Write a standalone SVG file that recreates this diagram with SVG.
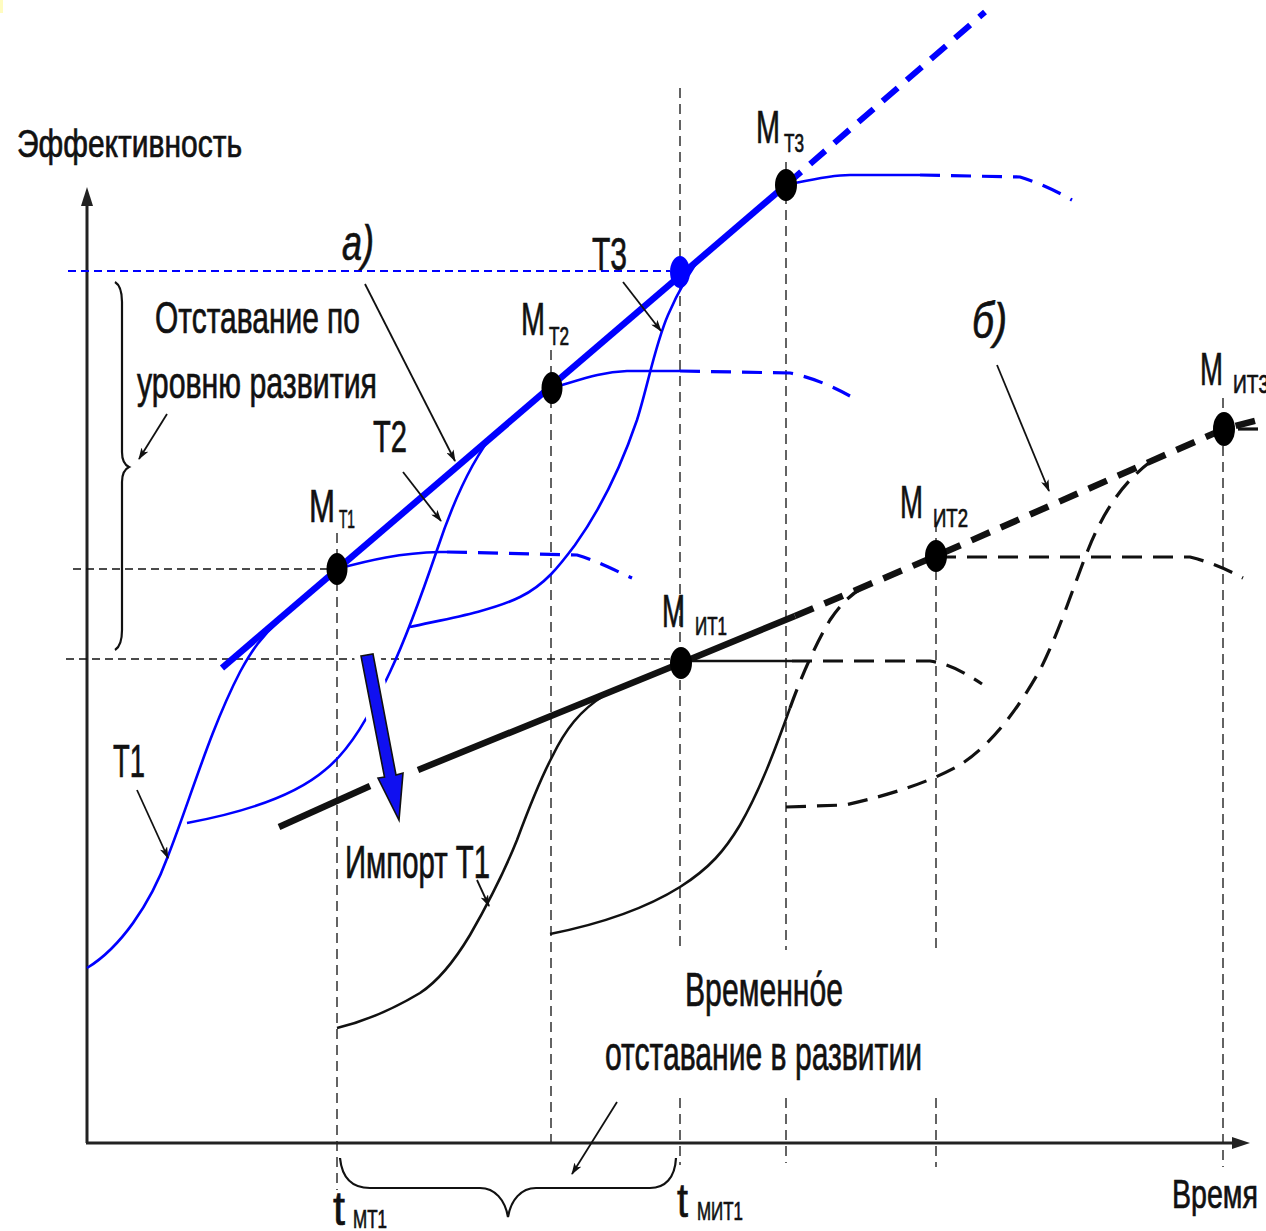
<svg xmlns="http://www.w3.org/2000/svg" width="1266" height="1231" viewBox="0 0 1266 1231">
<defs>
<style>
.ax{stroke:#222;stroke-width:3;fill:none}
.vg{stroke:#222;stroke-width:1.4;stroke-dasharray:10 6;fill:none}
.hg{stroke:#111;stroke-width:1.6;stroke-dasharray:8 5;fill:none}
.hgb{stroke:#0000ff;stroke-width:1.8;stroke-dasharray:8 5;fill:none}
.b{stroke:#0000ff;stroke-width:2.6;fill:none}
.bt{stroke:#0000ff;stroke-width:6.5;fill:none}
.bd{stroke:#0000ff;stroke-width:3.2;stroke-dasharray:20 11;fill:none}
.btd{stroke:#0000ff;stroke-width:6;stroke-dasharray:20 12;fill:none}
.k{stroke:#111;stroke-width:2.6;fill:none}
.kt{stroke:#111;stroke-width:6.5;fill:none}
.kd{stroke:#111;stroke-width:3.2;stroke-dasharray:20 11;fill:none}
.ktd{stroke:#111;stroke-width:6.5;stroke-dasharray:20 12;fill:none}
.ld{stroke:#111;stroke-width:1.8;fill:none}
.br{stroke:#111;stroke-width:2.2;fill:none}
.dot{fill:#000}
text{font-family:"Liberation Sans Narrow","Liberation Sans",Arial,sans-serif;fill:#111;stroke:#111;stroke-width:0.7}
.it{font-style:italic}
</style>
<marker id="ah" viewBox="0 0 12 8" refX="11" refY="4" markerWidth="12" markerHeight="8" markerUnits="userSpaceOnUse" orient="auto">
<path d="M0,0 L12,4 L0,8 L3,4 Z" fill="#111"/>
</marker>
</defs>
<rect width="1266" height="1231" fill="#fff"/>
<rect x="0" y="0" width="3" height="13" fill="#fffcc0"/>

<g id="axes">
<line class="ax" x1="87" y1="1143" x2="87" y2="200"/>
<path d="M87,187 L81,206 L93,206 Z" fill="#222"/>
<line class="ax" x1="86" y1="1143" x2="1236" y2="1143"/>
<path d="M1250,1143 L1232,1137 L1232,1149 Z" fill="#222"/>
<text x="17" y="157" font-size="38" textLength="225" lengthAdjust="spacingAndGlyphs">Эффективность</text>
<text x="1172" y="1208" font-size="41" textLength="86" lengthAdjust="spacingAndGlyphs">Время</text>
</g>

<g id="guides">
<line class="vg" x1="337" y1="533" x2="337" y2="1190"/>
<line class="vg" x1="551" y1="350" x2="551" y2="1150"/>
<line class="vg" x1="680" y1="88" x2="680" y2="950"/>
<line class="vg" x1="680" y1="1098" x2="680" y2="1165"/>
<line class="vg" x1="786" y1="162" x2="786" y2="950"/>
<line class="vg" x1="786" y1="1098" x2="786" y2="1163"/>
<line class="vg" x1="936" y1="522" x2="936" y2="948"/>
<line class="vg" x1="936" y1="1098" x2="936" y2="1167"/>
<line class="vg" x1="1223" y1="398" x2="1223" y2="1167"/>
<line class="hg" x1="73" y1="569" x2="327" y2="569"/>
<line class="hg" x1="66" y1="659" x2="670" y2="659"/>
<line class="hgb" x1="68" y1="271" x2="670" y2="271"/>
</g>

<g id="curves-a">
<path class="b" d="M87,968 C120,948 150,905 168,856 C190,800 210,730 240,672 C252,650 262,636 278,622"/>
<path class="b" d="M187,823 C230,815 290,800 325,770 C350,750 370,715 390,672 C405,640 420,600 437,550 C452,505 470,462 495,432"/>
<path class="b" d="M410,627 C440,620 490,612 520,597 C545,585 560,565 575,545 C600,510 620,470 637,420 C648,385 655,345 668,315 C678,292 690,270 705,252"/>
<path class="bt" d="M222,668 L786,185"/>
<path class="btd" d="M786,185 L985,12"/>
<path class="b" d="M337,569 C370,560 400,553 440,552 L447,552"/>
<path class="bd" d="M447,552 L577,555 C595,560 612,569 632,578"/>
<path class="b" d="M552,388 C580,380 600,372 627,371 L680,371"/>
<path class="bd" d="M680,371 L790,373 C815,378 835,388 850,396"/>
<path class="b" d="M786,185 C810,180 830,175 850,175 L920,175"/>
<path class="bd" d="M920,175 L1020,177 C1040,183 1058,192 1072,200"/>
</g>

<g id="curves-b">
<path class="k" d="M337,1028 C370,1020 400,1005 420,993 C440,980 455,960 470,935 C490,900 505,870 517,840 C530,805 540,780 552,757 C565,730 580,710 605,695"/>
<path class="k" d="M550,934 C590,926 640,912 680,887 C710,868 725,850 740,825 C760,790 775,750 790,708"/>
<path class="kd" d="M790,708 C800,680 815,645 830,620 C840,605 850,595 862,588"/>
<path class="kd" d="M786,807 L845,805 C890,795 930,782 960,765 C995,742 1020,705 1040,670 C1060,630 1072,590 1088,550 C1102,515 1120,485 1150,462"/>
<path class="kt" d="M279,827 L370,786"/>
<path class="kt" d="M418,770 L681,663 L795,616"/>
<path class="ktd" d="M795,616 L936,556 L1224,429 L1266,418"/>
<path class="k" d="M681,661 L792,661"/>
<path class="kd" d="M792,661 L930,661 C950,664 965,673 982,684"/>
<path class="kd" d="M936,557 L1190,557 C1210,562 1228,570 1243,578"/>
<path class="kd" d="M1238,429 L1266,429"/>
</g>

<g id="import-arrow">
<path d="M361,656 L373,654 L396,775 L403,773 L399,820 L378,778 L384.5,777 Z" fill="#fff" stroke="#fff" stroke-width="14" stroke-linejoin="round"/>
<path d="M361,656 L373,654 L396,775 L403,773 L399,820 L378,778 L384.5,777 Z" fill="#1010f0" stroke="#111" stroke-width="1.6"/>
</g>

<g id="node-MT1">
<ellipse class="dot" cx="337" cy="569" rx="10.5" ry="16"/>
<text x="309" y="522" font-size="46"><tspan textLength="26" lengthAdjust="spacingAndGlyphs">М</tspan><tspan x="339" y="528" font-size="25" textLength="16" lengthAdjust="spacingAndGlyphs">Т1</tspan></text>
</g>
<g id="node-MT2">
<ellipse class="dot" cx="552" cy="388" rx="10.5" ry="16"/>
<text x="521" y="335" font-size="46"><tspan textLength="24" lengthAdjust="spacingAndGlyphs">М</tspan><tspan x="549" y="345" font-size="25" textLength="20" lengthAdjust="spacingAndGlyphs">Т2</tspan></text>
</g>
<g id="node-MT3">
<ellipse class="dot" cx="786" cy="185" rx="11" ry="16"/>
<text x="756" y="143" font-size="46"><tspan textLength="24" lengthAdjust="spacingAndGlyphs">М</tspan><tspan x="784" y="152" font-size="25" textLength="20" lengthAdjust="spacingAndGlyphs">Т3</tspan></text>
</g>
<g id="node-T3">
<ellipse cx="680" cy="272" rx="10" ry="16" fill="#0000ff"/>
<text x="592" y="270" font-size="46" textLength="35" lengthAdjust="spacingAndGlyphs">Т3</text>
</g>
<g id="node-MIT1">
<ellipse class="dot" cx="681" cy="663" rx="11" ry="16"/>
<text x="662" y="627" font-size="46"><tspan textLength="23" lengthAdjust="spacingAndGlyphs">М</tspan><tspan x="695" y="635" font-size="25" textLength="32" lengthAdjust="spacingAndGlyphs">ИТ1</tspan></text>
</g>
<g id="node-MIT2">
<ellipse class="dot" cx="936" cy="556" rx="11" ry="16"/>
<text x="900" y="518" font-size="46"><tspan textLength="23" lengthAdjust="spacingAndGlyphs">М</tspan><tspan x="933" y="527" font-size="25" textLength="35" lengthAdjust="spacingAndGlyphs">ИТ2</tspan></text>
</g>
<g id="node-MIT3">
<ellipse class="dot" cx="1224" cy="429" rx="11" ry="17"/>
<text x="1200" y="385" font-size="46"><tspan textLength="23" lengthAdjust="spacingAndGlyphs">М</tspan><tspan x="1233" y="393" font-size="25" textLength="36" lengthAdjust="spacingAndGlyphs">ИТ3</tspan></text>
</g>

<g id="labels">
<text class="it" x="342" y="260" font-size="50" textLength="32" lengthAdjust="spacingAndGlyphs">а)</text>
<text class="it" x="972" y="338" font-size="50" textLength="35" lengthAdjust="spacingAndGlyphs">б)</text>
<text x="155" y="333" font-size="45" textLength="205" lengthAdjust="spacingAndGlyphs">Отставание по</text>
<text x="137" y="398" font-size="45" textLength="240" lengthAdjust="spacingAndGlyphs">уровню развития</text>
<text x="373" y="452" font-size="45" textLength="34" lengthAdjust="spacingAndGlyphs">Т2</text>
<text x="113" y="777" font-size="46" textLength="32" lengthAdjust="spacingAndGlyphs">Т1</text>
<text x="345" y="878" font-size="46" textLength="145" lengthAdjust="spacingAndGlyphs">Импорт Т1</text>
<text x="685" y="1006" font-size="48" textLength="158" lengthAdjust="spacingAndGlyphs">Временно́е</text>
<text x="605" y="1070" font-size="48" textLength="317" lengthAdjust="spacingAndGlyphs">отставание в развитии</text>
<text x="333" y="1225" font-size="48"><tspan textLength="12" lengthAdjust="spacingAndGlyphs">t</tspan><tspan x="353" y="1228" font-size="25" textLength="34" lengthAdjust="spacingAndGlyphs">МТ1</tspan></text>
<text x="677" y="1217" font-size="48"><tspan textLength="11" lengthAdjust="spacingAndGlyphs">t</tspan><tspan x="697" y="1220" font-size="26" textLength="46" lengthAdjust="spacingAndGlyphs">МИТ1</tspan></text>
</g>

<g id="braces">
<path class="br" d="M115,282 C120,285 122,292 122,302 L122,452 C122,460 125,465 129,467 C125,469 122,474 122,482 L122,630 C122,640 120,647 115,650"/>
<path class="br" d="M340,1158 C342,1178 352,1188 370,1188 L480,1188 C495,1188 505,1200 508,1217 C511,1200 521,1188 536,1188 L650,1188 C665,1188 675,1178 676,1158"/>
</g>

<g id="connectors">
<line class="ld" x1="365" y1="284" x2="455" y2="461" marker-end="url(#ah)"/>
<line class="ld" x1="623" y1="282" x2="661" y2="331" marker-end="url(#ah)"/>
<line class="ld" x1="403" y1="472" x2="441" y2="521" marker-end="url(#ah)"/>
<line class="ld" x1="997" y1="365" x2="1049" y2="491" marker-end="url(#ah)"/>
<line class="ld" x1="167" y1="414" x2="139" y2="459" marker-end="url(#ah)"/>
<line class="ld" x1="137" y1="790" x2="168" y2="858" marker-end="url(#ah)"/>
<line class="ld" x1="477" y1="880" x2="489" y2="906" marker-end="url(#ah)"/>
<line class="ld" x1="617" y1="1102" x2="572" y2="1174" marker-end="url(#ah)"/>
</g>
</svg>
